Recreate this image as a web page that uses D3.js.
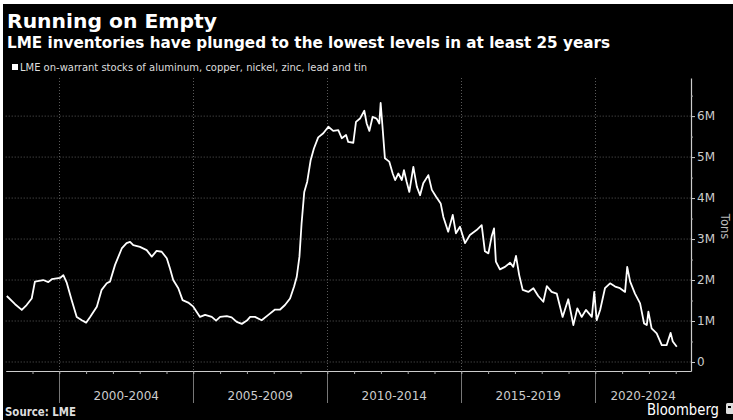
<!DOCTYPE html>
<html>
<head>
<meta charset="utf-8">
<script src="https://cdn.jsdelivr.net/npm/d3@7"></script>
<style>
  html, body { margin: 0; padding: 0; background: #000; }
  svg { display: block; }
  text { font-family: "DejaVu Sans", sans-serif; }
</style>
</head>
<body>
<svg id="chart" width="733" height="420"></svg>
<script>
// ---- data (decimal year, million tons) ----
const years = [
  1998.04, 1998.35, 1998.60, 1998.78, 1998.97, 1999.09, 1999.40, 1999.59, 1999.72, 2000.03,
  2000.15, 2000.28, 2000.46, 2000.65, 2000.84, 2001.00, 2001.15, 2001.40, 2001.58, 2001.77,
  2001.89, 2002.08, 2002.33, 2002.51, 2002.64, 2002.76, 2003.01, 2003.26, 2003.45, 2003.63,
  2003.82, 2004.01, 2004.13, 2004.25, 2004.44, 2004.60, 2004.81, 2005.00, 2005.25, 2005.44,
  2005.69, 2005.85, 2006.00, 2006.25, 2006.43, 2006.62, 2006.81, 2007.00, 2007.12, 2007.30,
  2007.55, 2007.80, 2008.05, 2008.24, 2008.42, 2008.61, 2008.76, 2008.86, 2008.96, 2009.04,
  2009.14, 2009.25, 2009.38, 2009.50, 2009.66, 2009.85, 2010.04, 2010.22, 2010.41, 2010.54,
  2010.70, 2010.78, 2010.97, 2011.07, 2011.22, 2011.38, 2011.47, 2011.57, 2011.69, 2011.84,
  2011.94, 2011.99, 2012.05, 2012.15, 2012.31, 2012.44, 2012.53, 2012.65, 2012.78, 2012.86,
  2012.96, 2013.06, 2013.21, 2013.34, 2013.46, 2013.58, 2013.77, 2013.90, 2014.06, 2014.23,
  2014.33, 2014.51, 2014.68, 2014.80, 2014.95, 2015.14, 2015.32, 2015.57, 2015.76, 2015.88,
  2016.01, 2016.13, 2016.22, 2016.29, 2016.44, 2016.63, 2016.82, 2016.94, 2017.04, 2017.16,
  2017.29, 2017.50, 2017.69, 2017.87, 2018.06, 2018.19, 2018.37, 2018.56, 2018.78, 2018.99,
  2019.18, 2019.33, 2019.49, 2019.65, 2019.87, 2019.96, 2020.05, 2020.18, 2020.36, 2020.55,
  2020.74, 2020.92, 2021.11, 2021.19, 2021.30, 2021.48, 2021.67, 2021.82, 2021.92, 2021.98,
  2022.10, 2022.29, 2022.48, 2022.66, 2022.81, 2022.89, 2023.04
];
const stocks = [
  1.61, 1.41, 1.27, 1.39, 1.55, 1.96, 2.00, 1.95, 2.02, 2.05,
  2.12, 1.93, 1.51, 1.10, 1.02, 0.96, 1.10, 1.35, 1.76, 1.92,
  1.96, 2.37, 2.77, 2.90, 2.93, 2.85, 2.81, 2.73, 2.57, 2.71,
  2.69, 2.53, 2.28, 2.00, 1.80, 1.51, 1.45, 1.35, 1.10, 1.15,
  1.10, 1.01, 1.10, 1.12, 1.09, 0.98, 0.93, 1.01, 1.10, 1.10,
  1.02, 1.15, 1.28, 1.28, 1.39, 1.55, 1.84, 2.08, 2.57, 3.38,
  4.15, 4.40, 4.93, 5.21, 5.48, 5.58, 5.74, 5.64, 5.66, 5.46,
  5.54, 5.37, 5.35, 5.86, 5.94, 6.13, 5.82, 5.64, 5.98, 5.94,
  5.82, 6.32, 5.82, 4.97, 4.89, 4.60, 4.44, 4.60, 4.44, 4.68,
  4.40, 4.15, 4.76, 4.28, 4.07, 4.36, 4.56, 4.20, 4.03, 3.87,
  3.54, 3.18, 3.59, 3.14, 3.30, 2.90, 3.10, 3.22, 3.34, 2.70,
  2.65, 3.06, 3.26, 2.45, 2.26, 2.32, 2.42, 2.32, 2.59, 2.12,
  1.76, 1.71, 1.80, 1.61, 1.47, 1.85, 1.71, 1.67, 1.10, 1.53,
  0.90, 1.31, 1.10, 1.27, 1.10, 1.71, 1.02, 1.27, 1.80, 1.92,
  1.84, 1.80, 1.71, 2.32, 1.96, 1.67, 1.43, 0.94, 0.90, 1.23,
  0.82, 0.70, 0.41, 0.41, 0.71, 0.50, 0.37
];
const periodLabels = ["2000-2004", "2005-2009", "2010-2014", "2015-2019", "2020-2024"];
const periodStarts = [2000, 2005, 2010, 2015, 2020];
const yearTicks = d3.range(1999, 2024);
const yTicks = [0, 1, 2, 3, 4, 5, 6];
const yTickLabels = ["0", "1M", "2M", "3M", "4M", "5M", "6M"];
const yMinorTicks = [0.5, 1.5, 2.5, 3.5, 4.5, 5.5, 6.5];

const titleText = "Running on Empty";
const subtitleText = "LME inventories have plunged to the lowest levels in at least 25 years";
const legendText = "LME on-warrant stocks of aluminum, copper, nickel, zinc, lead and tin";
const unitText = "Tons";
const sourceText = "Source: LME";
const brandText = "Bloomberg";

// ---- layout ----
const W = 733, H = 420;
const plot = { left: 5.7, right: 691, top: 78, bottom: 371 };
const svg = d3.select("#chart");

svg.append("rect").attr("width", W).attr("height", H).attr("fill", "#000");
svg.append("rect").attr("x", 0).attr("y", 0).attr("width", W).attr("height", 4).attr("fill", "#fff");
svg.append("rect").attr("x", 0).attr("y", 0).attr("width", 3).attr("height", H).attr("fill", "#fff");

const x = d3.scaleLinear().domain([1998, 2023.57]).range([plot.left, plot.right]);
const y = d3.scaleLinear().domain([-0.22, 6.93]).range([plot.bottom, plot.top]);

// titles
svg.append("text").attr("x", 7).attr("y", 27.5)
  .attr("font-size", 20).attr("font-weight", "bold").attr("fill", "#fff")
  .attr("textLength", 210).attr("lengthAdjust", "spacingAndGlyphs")
  .text(titleText);
svg.append("text").attr("x", 7).attr("y", 48)
  .attr("font-size", 15).attr("font-weight", "bold").attr("fill", "#fff")
  .attr("textLength", 603).attr("lengthAdjust", "spacingAndGlyphs")
  .text(subtitleText);

// legend
svg.append("rect").attr("x", 12).attr("y", 64).attr("width", 6).attr("height", 6).attr("fill", "#fff");
svg.append("text").attr("x", 20).attr("y", 71)
  .attr("font-size", 10).attr("fill", "#ddd")
  .attr("textLength", 347).attr("lengthAdjust", "spacingAndGlyphs")
  .text(legendText);

// horizontal gridlines
svg.append("g").selectAll("line").data(yTicks).join("line")
  .attr("x1", plot.left).attr("x2", plot.right)
  .attr("y1", d => y(d)).attr("y2", d => y(d))
  .attr("stroke", "#5a5a5a").attr("stroke-width", 1).attr("stroke-dasharray", "1,2");

// vertical dividers
svg.append("g").selectAll("line").data(periodStarts).join("line")
  .attr("x1", d => Math.round(x(d)) + 0.5).attr("x2", d => Math.round(x(d)) + 0.5)
  .attr("y1", plot.top).attr("y2", plot.bottom)
  .attr("stroke", "#5a5a5a").attr("stroke-width", 1).attr("stroke-dasharray", "1,2");
svg.append("g").selectAll("line").data(periodStarts).join("line")
  .attr("x1", d => Math.round(x(d)) + 0.5).attr("x2", d => Math.round(x(d)) + 0.5)
  .attr("y1", plot.bottom).attr("y2", 403)
  .attr("stroke", "#777").attr("stroke-width", 1);

// x axis (year ticks)
const xAxis = d3.axisBottom(x).tickValues(yearTicks).tickSize(3).tickSizeOuter(0).tickFormat("");
const gx = svg.append("g").attr("transform", `translate(0,${plot.bottom})`).call(xAxis);
gx.select(".domain").attr("stroke", "#ccc").attr("stroke-width", 1.2);
gx.selectAll(".tick line").attr("stroke", "#aaa");

// period labels
const [d0, d1] = x.domain();
svg.append("g").selectAll("text").data(periodStarts).join("text")
  .attr("x", (d) => (x(Math.max(d, d0)) + x(Math.min(d + 5, d1))) / 2)
  .attr("y", 400)
  .attr("text-anchor", "middle").attr("font-size", 12).attr("fill", "#ccc")
  .text((d, i) => periodLabels[i]);

// y axis on right
const yAxis = d3.axisRight(y).tickValues(yTicks).tickSize(4).tickSizeOuter(0)
  .tickFormat((d, i) => yTickLabels[i]);
const gy = svg.append("g").attr("transform", `translate(${plot.right},0)`).call(yAxis);
gy.select(".domain").attr("stroke", "#ccc").attr("stroke-width", 1.2);
gy.selectAll(".tick line").attr("stroke", "#ccc");
gy.selectAll(".tick text").attr("fill", "#ccc").attr("font-size", 12)
  .attr("font-family", "DejaVu Sans, sans-serif").attr("x", 6);
const yMinor = d3.axisRight(y).tickValues(yMinorTicks).tickSize(2).tickSizeOuter(0).tickFormat("");
const gym = svg.append("g").attr("transform", `translate(${plot.right},0)`).call(yMinor);
gym.select(".domain").remove();
gym.selectAll(".tick line").attr("stroke", "#aaa");

// unit label (reads top-to-bottom)
svg.append("text")
  .attr("transform", `translate(721,${(y(3) + y(4)) / 2 + 8}) rotate(90)`)
  .attr("text-anchor", "middle").attr("font-size", 11.5).attr("fill", "#bbb")
  .text(unitText);

// line
const line = d3.line().x((d, i) => x(years[i])).y(d => y(d));
svg.append("path").datum(stocks)
  .attr("d", line).attr("fill", "none").attr("stroke", "#fff")
  .attr("stroke-width", 1.8).attr("stroke-linejoin", "round");

// footer
svg.append("text").attr("x", 5).attr("y", 416)
  .attr("font-size", 11.5).attr("font-weight", "bold").attr("fill", "#ddd")
  .attr("textLength", 71).attr("lengthAdjust", "spacingAndGlyphs")
  .text(sourceText);
svg.append("text").attr("x", 647).attr("y", 415)
  .attr("font-size", 15).attr("fill", "#fff")
  .attr("textLength", 72).attr("lengthAdjust", "spacingAndGlyphs")
  .text(brandText);
// brand mark
svg.append("rect").attr("x", 726).attr("y", 403).attr("width", 9).attr("height", 11)
  .attr("rx", 1.5).attr("fill", "#ddd");
svg.append("rect").attr("x", 728).attr("y", 406).attr("width", 3).attr("height", 2).attr("fill", "#000");
</script>
</body>
</html>
